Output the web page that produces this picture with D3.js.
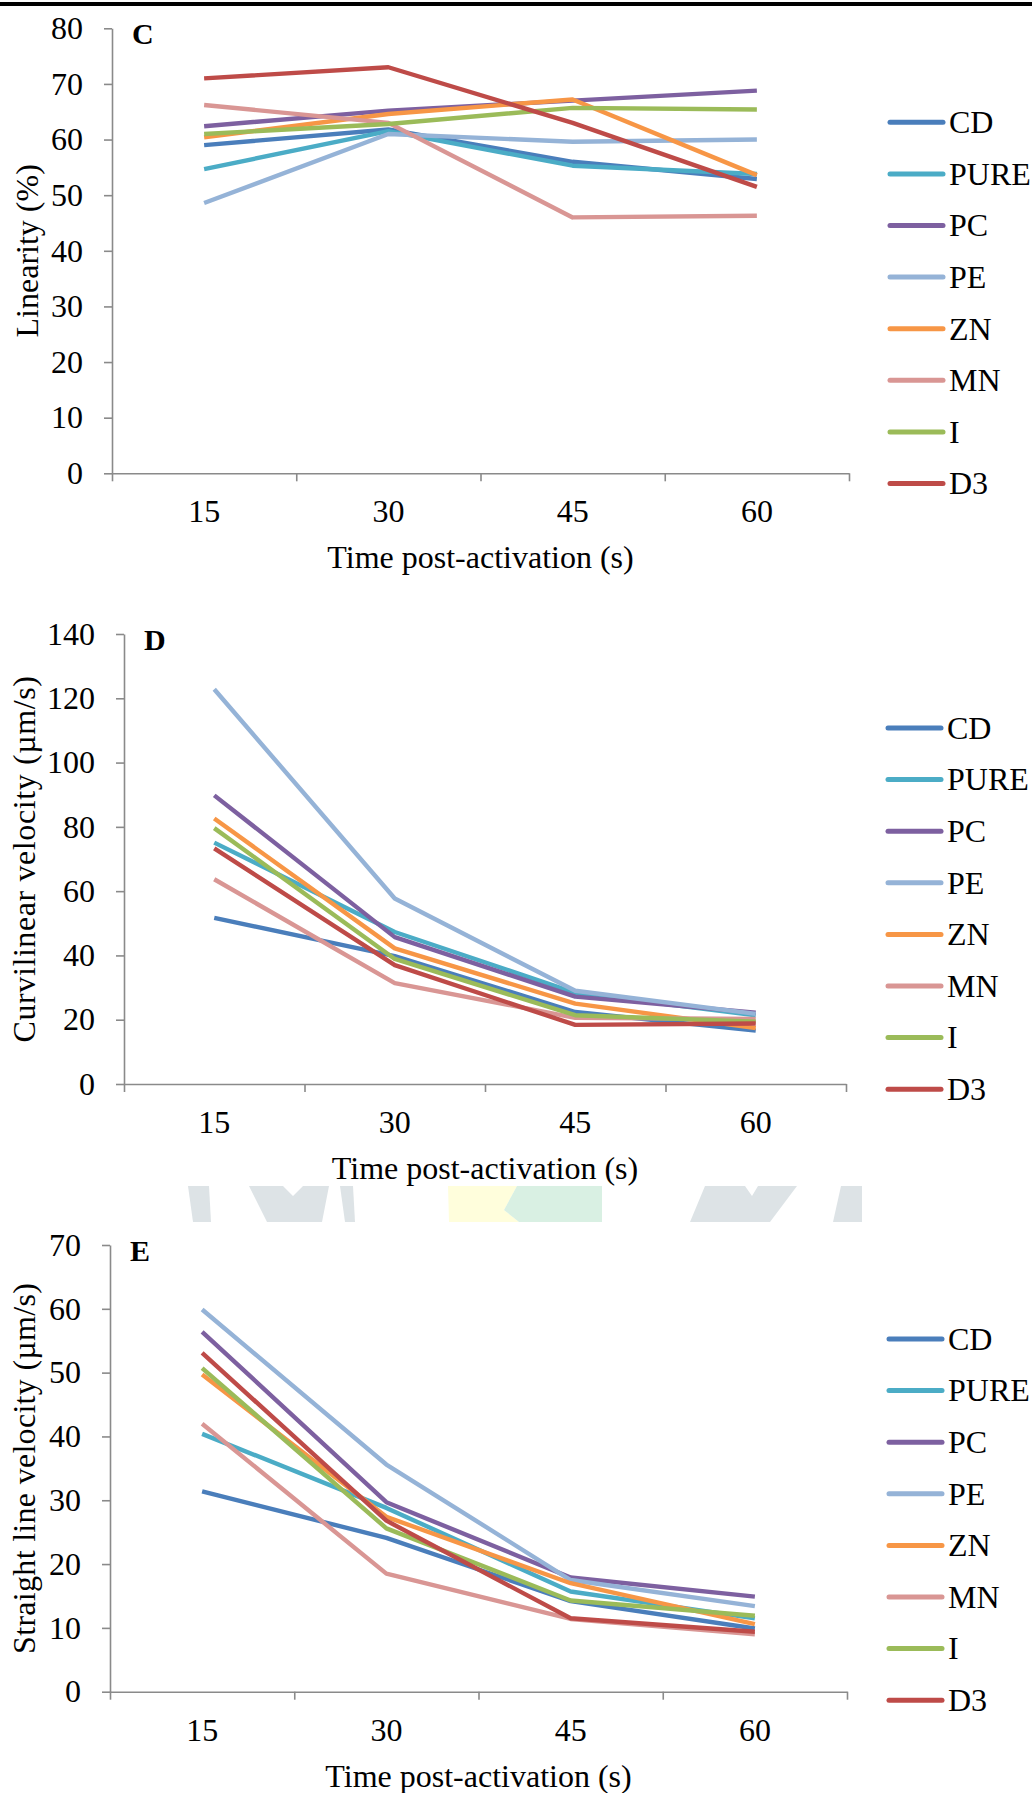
<!DOCTYPE html>
<html>
<head>
<meta charset="utf-8">
<script src="https://cdn.jsdelivr.net/npm/d3@7"></script>
<style>
  body { margin: 0; background: #fff; }
  svg { display: block; }
  text { font-family: "Liberation Serif", "Times New Roman", serif; fill: #000; }
</style>
</head>
<body>
<script>
var width = 1032,
    height = 1793;

// groups and time points
var series = ["CD", "PURE", "PC", "PE", "ZN", "MN", "I", "D3"];
var colors = ["#4a7ebb", "#4bacc6", "#7d60a0", "#95b3d7", "#f79646", "#d99694", "#9bbb59", "#be4b48"];
var times = ["15", "30", "45", "60"];

// C - linearity (%), one row per group in series order
var linearity = [
  [59.0, 61.8, 56.0, 52.9],
  [54.7, 61.5, 55.3, 53.8],
  [62.4, 65.2, 67.0, 68.8],
  [48.6, 61.0, 59.6, 60.0],
  [60.4, 64.6, 67.2, 53.6],
  [66.2, 63.0, 46.0, 46.3],
  [61.0, 62.8, 65.7, 65.4],
  [71.0, 73.0, 63.0, 51.5]
];
// D - curvilinear velocity (um/s)
var curvilinear = [
  [51.7, 39.8, 22.4, 16.6],
  [75.1, 47.3, 28.4, 21.4],
  [89.8, 45.7, 27.2, 22.2],
  [122.8, 57.7, 29.0, 21.8],
  [82.6, 42.2, 25.0, 17.4],
  [63.7, 31.4, 20.6, 20.2],
  [79.6, 38.9, 21.4, 19.4],
  [73.3, 37.0, 18.4, 18.8]
];
// E - straight line velocity (um/s)
var straightLine = [
  [31.4, 24.1, 14.2, 9.9],
  [40.4, 28.8, 15.7, 11.5],
  [56.4, 29.7, 17.9, 14.9],
  [59.9, 35.6, 17.5, 13.4],
  [49.7, 27.4, 17.0, 10.6],
  [42.0, 18.5, 11.4, 9.0],
  [50.7, 25.6, 14.3, 11.9],
  [53.1, 26.8, 11.5, 9.4]
];

var ticksC = [0, 10, 20, 30, 40, 50, 60, 70, 80];
var ticksD = [0, 20, 40, 60, 80, 100, 120, 140];
var ticksE = [0, 10, 20, 30, 40, 50, 60, 70];

var svg = d3.select("body").append("svg")
    .attr("width", width)
    .attr("height", height);

// top rule
svg.append("rect").attr("x", 0).attr("y", 2).attr("width", width).attr("height", 4).attr("fill", "#000");

// faint page watermark between D and E
var wmGray = "#dde3e6";
var watermark = [
  {c: wmGray, p: [[188,1186],[209,1186],[211,1222],[193,1222]]},
  {c: wmGray, p: [[249,1186],[283,1186],[293,1196],[303,1186],[329,1186],[322,1222],[267,1222]]},
  {c: wmGray, p: [[340,1186],[353,1186],[355,1222],[345,1222]]},
  {c: "#fffedc", p: [[448,1186],[517,1186],[504,1210],[519,1222],[449,1222]]},
  {c: "#d9f0e3", p: [[517,1186],[602,1186],[602,1222],[519,1222],[504,1210]]},
  {c: wmGray, p: [[705,1186],[745,1186],[752,1196],[758,1186],[797,1186],[770,1222],[690,1222]]},
  {c: wmGray, p: [[841,1186],[862,1186],[862,1222],[833,1222]]}
];
svg.append("g").selectAll("polygon")
    .data(watermark)
    .enter().append("polygon")
    .attr("points", function(d) { return d.p.map(function(q) { return q.join(","); }).join(" "); })
    .attr("fill", function(d) { return d.c; });

var axisColor = "#8a8a8a";
var fs = 32;

function drawPanel(cfg) {
    var g = svg.append("g");

    var x = d3.scaleBand().domain(times).range([cfg.left, cfg.right]);
    var xEdge = d3.scaleLinear().domain([0, times.length]).range([cfg.left, cfg.right]);
    var y = d3.scaleLinear().domain([0, d3.max(cfg.ticks)]).range([cfg.bottom, cfg.top]);

    // y axis
    var ya = g.append("g")
        .attr("transform", "translate(" + cfg.left + ",0)")
        .call(d3.axisLeft(y).tickValues(cfg.ticks).tickSize(8).tickSizeOuter(0).tickPadding(21));
    ya.selectAll("text").attr("font-size", fs);

    // x axis: tick marks at category edges, labels at centres
    var xe = g.append("g")
        .attr("transform", "translate(0," + cfg.bottom + ")")
        .call(d3.axisBottom(xEdge).ticks(times.length).tickSize(8).tickSizeOuter(0).tickFormat(""));
    var xl = g.append("g")
        .attr("transform", "translate(0," + cfg.bottom + ")")
        .call(d3.axisBottom(x).tickSize(0));
    xl.select(".domain").remove();
    xl.selectAll("text").attr("y", 49).attr("dy", null).attr("font-size", fs);

    g.selectAll(".domain, .tick line").attr("stroke", axisColor).attr("stroke-width", 1.6);
    g.selectAll(".tick text").attr("fill", "#000");
    ya.attr("font-family", null); xe.attr("font-family", null); xl.attr("font-family", null);

    // lines
    var line = d3.line()
        .x(function(d, i) { return x(times[i]) + x.bandwidth() / 2; })
        .y(function(d) { return y(d); });
    g.append("g").selectAll("path")
        .data(cfg.values)
        .enter().append("path")
        .attr("d", line)
        .attr("fill", "none")
        .attr("stroke", function(d, i) { return colors[i]; })
        .attr("stroke-width", 4.4)
        .attr("stroke-linejoin", "round");

    // panel letter
    g.append("text")
        .attr("x", cfg.left + 20)
        .attr("y", cfg.top + 15.5)
        .attr("font-size", 30)
        .attr("font-weight", "bold")
        .text(cfg.letter);

    // axis titles
    g.append("text")
        .attr("x", (cfg.left + cfg.right) / 2)
        .attr("y", cfg.bottom + 95)
        .attr("text-anchor", "middle")
        .attr("font-size", fs)
        .text("Time post-activation (s)");
    g.append("text")
        .attr("transform", "translate(" + cfg.titleX + "," + (cfg.top + cfg.bottom) / 2 + ") rotate(-90)")
        .attr("dy", "0.3em")
        .attr("text-anchor", "middle")
        .attr("font-size", fs)
        .attr("letter-spacing", cfg.spacing)
        .text(cfg.title);

    // legend
    var lg = g.append("g").selectAll("g")
        .data(series)
        .enter().append("g")
        .attr("transform", function(d, i) { return "translate(" + cfg.legendX + "," + (cfg.top + 94 + i * 51.6) + ")"; });
    lg.append("line")
        .attr("x1", 0).attr("x2", 53)
        .attr("stroke", function(d, i) { return colors[i]; })
        .attr("stroke-width", 5)
        .attr("stroke-linecap", "round");
    lg.append("text")
        .attr("x", 59)
        .attr("dy", "0.34em")
        .attr("font-size", fs)
        .text(function(d) { return d; });
}

drawPanel({letter: "C", values: linearity, ticks: ticksC, title: "Linearity (%)", spacing: 0,
    left: 112, right: 849, top: 28.3, bottom: 473.3, titleX: 28, legendX: 890});
drawPanel({letter: "D", values: curvilinear, ticks: ticksD, title: "Curvilinear velocity (\u00b5m/s)", spacing: 0.6,
    left: 124, right: 846, top: 634, bottom: 1084, titleX: 25, legendX: 888});
drawPanel({letter: "E", values: straightLine, ticks: ticksE, title: "Straight line velocity (\u00b5m/s)", spacing: 0.3,
    left: 110, right: 847, top: 1245, bottom: 1691.7, titleX: 25, legendX: 889});
</script>
</body>
</html>
